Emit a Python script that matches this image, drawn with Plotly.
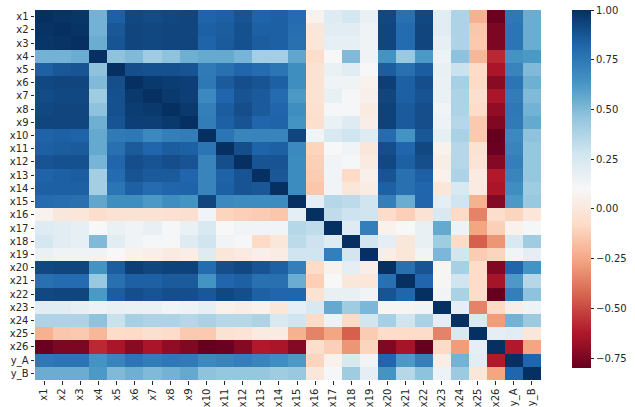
import numpy as np
import plotly.graph_objects as go

labels = [f"x{i}" for i in range(1, 27)] + ["y_A", "y_B"]

# Lower triangle of the correlation matrix, one row per variable
r_x1 = [1.0]
r_x2 = [0.99, 1.0]
r_x3 = [0.98, 0.99, 1.0]
r_x4 = [0.53, 0.53, 0.55, 1.0]
r_x5 = [0.84, 0.87, 0.88, 0.47, 1.0]
r_x6 = [0.92, 0.93, 0.93, 0.50, 0.90, 1.0]
r_x7 = [0.91, 0.92, 0.92, 0.42, 0.89, 0.97, 1.0]
r_x8 = [0.92, 0.93, 0.93, 0.47, 0.89, 0.96, 0.97, 1.0]
r_x9 = [0.93, 0.93, 0.93, 0.54, 0.88, 0.95, 0.95, 0.97, 1.0]
r_x10 = [0.83, 0.84, 0.83, 0.56, 0.74, 0.75, 0.68, 0.72, 0.73, 1.0]
r_x11 = [0.84, 0.85, 0.86, 0.56, 0.78, 0.86, 0.82, 0.85, 0.84, 0.76, 1.0]
r_x12 = [0.88, 0.89, 0.89, 0.52, 0.82, 0.90, 0.88, 0.90, 0.88, 0.70, 0.90, 1.0]
r_x13 = [0.83, 0.84, 0.85, 0.41, 0.80, 0.88, 0.86, 0.86, 0.82, 0.70, 0.83, 0.88, 1.0]
r_x14 = [0.84, 0.84, 0.84, 0.41, 0.76, 0.84, 0.80, 0.82, 0.83, 0.70, 0.84, 0.88, 0.87, 1.0]
r_x15 = [0.80, 0.79, 0.78, 0.57, 0.66, 0.66, 0.62, 0.66, 0.64, 0.93, 0.68, 0.67, 0.67, 0.67, 1.0]
r_x16 = [0.07, 0.00, -0.01, -0.06, -0.03, -0.03, -0.03, -0.04, -0.05, 0.13, -0.10, -0.12,
         -0.13, -0.15, 0.19, 1.0]
r_x17 = [0.22, 0.20, 0.18, 0.10, 0.16, 0.14, 0.17, 0.11, 0.16, 0.24, 0.10, 0.13, 0.13, 0.13,
         0.36, 0.33, 1.0]
r_x18 = [0.26, 0.20, 0.18, 0.50, 0.20, 0.14, 0.11, 0.11, 0.22, 0.28, 0.13, 0.11, -0.08, -0.01,
         0.34, 0.29, 0.22, 1.0]
r_x19 = [0.16, 0.14, 0.14, 0.14, 0.10, 0.06, 0.05, 0.02, 0.04, 0.22, -0.01, 0.02, 0.05, 0.03,
         0.28, 0.28, 0.72, 0.27, 1.0]
r_x20 = [0.92, 0.93, 0.93, 0.64, 0.85, 0.95, 0.93, 0.94, 0.94, 0.80, 0.90, 0.92, 0.88, 0.84,
         0.72, -0.07, 0.06, 0.19, 0.04, 1.0]
r_x21 = [0.78, 0.80, 0.80, 0.44, 0.78, 0.84, 0.84, 0.86, 0.86, 0.64, 0.82, 0.84, 0.78, 0.78,
         0.55, -0.12, 0.10, 0.00, -0.01, 0.78, 1.0]
r_x22 = [0.92, 0.93, 0.93, 0.62, 0.85, 0.90, 0.88, 0.90, 0.90, 0.87, 0.92, 0.90, 0.84, 0.82,
         0.82, -0.03, 0.17, 0.17, 0.13, 0.88, 0.82, 1.0]
r_x23 = [0.20, 0.20, 0.18, 0.15, 0.17, 0.16, 0.16, 0.13, 0.15, 0.18, 0.06, 0.04, 0.06, -0.01,
         0.19, 0.24, 0.56, 0.42, 0.51, 0.09, 0.09, 0.13, 1.0]
r_x24 = [0.38, 0.38, 0.38, 0.47, 0.30, 0.40, 0.38, 0.38, 0.36, 0.39, 0.36, 0.36, 0.38, 0.24,
         0.28, -0.08, 0.15, -0.08, 0.27, 0.40, 0.28, 0.39, 0.19, 1.0]
r_x25 = [-0.22, -0.15, -0.14, -0.20, -0.07, -0.08, -0.05, -0.07, -0.14, -0.14, -0.03, -0.02,
         0.02, 0.02, -0.22, -0.35, -0.26, -0.44, -0.13, -0.07, -0.07, -0.07, -0.35, 0.24, 1.0]
r_x26 = [-0.79, -0.75, -0.75, -0.58, -0.64, -0.72, -0.64, -0.70, -0.74, -0.80, -0.79, -0.73,
         -0.62, -0.64, -0.73, -0.06, -0.12, -0.30, -0.10, -0.74, -0.65, -0.80, -0.08, -0.28,
         0.19, 1.0]
r_yA = [0.75, 0.76, 0.76, 0.64, 0.70, 0.76, 0.73, 0.75, 0.74, 0.68, 0.70, 0.72, 0.70, 0.66,
        0.62, -0.10, 0.06, 0.24, 0.13, 0.82, 0.62, 0.72, 0.04, 0.53, 0.20, -0.62, 1.0]
r_yB = [0.55, 0.55, 0.55, 0.62, 0.50, 0.54, 0.50, 0.53, 0.56, 0.47, 0.45, 0.45, 0.45, 0.42,
        0.44, -0.01, 0.11, 0.42, 0.19, 0.64, 0.36, 0.47, 0.15, 0.43, -0.01, -0.26, 0.82, 1.0]

lower_rows = [r_x1, r_x2, r_x3, r_x4, r_x5, r_x6, r_x7, r_x8, r_x9, r_x10, r_x11, r_x12,
              r_x13, r_x14, r_x15, r_x16, r_x17, r_x18, r_x19, r_x20, r_x21, r_x22, r_x23,
              r_x24, r_x25, r_x26, r_yA, r_yB]

cbar_ticks = [-0.75, -0.5, -0.25, 0.0, 0.25, 0.5, 0.75, 1.0]

# Mirror the lower triangle into a full symmetric matrix
n = len(labels)
corr = np.zeros((n, n))
for i, row in enumerate(lower_rows):
    for j, v in enumerate(row):
        corr[i, j] = v
        corr[j, i] = v

# Reversed ColorBrewer RdBu (red = negative, blue = positive)
rdbu_r = ["#67001f", "#b2182b", "#d6604d", "#f4a582", "#fddbc7", "#f7f7f7",
          "#d1e5f0", "#92c5de", "#4393c3", "#2166ac", "#053061"]
colorscale = [[k / (len(rdbu_r) - 1), c] for k, c in enumerate(rdbu_r)]

text_color = "#262626"
font = dict(family="DejaVu Sans", size=10, color=text_color)

fig = go.Figure(
    go.Heatmap(
        z=corr,
        x=labels,
        y=labels,
        colorscale=colorscale,
        zmin=float(corr.min()),
        zmax=float(corr.max()),
        xgap=0,
        ygap=0,
        colorbar=dict(
            x=1.061,
            xanchor="left",
            xpad=0,
            y=1.0,
            yanchor="top",
            ypad=0,
            len=0.968,
            lenmode="fraction",
            thickness=19,
            outlinewidth=0,
            ticks="outside",
            ticklen=3.5,
            tickwidth=0.8,
            tickcolor=text_color,
            tickvals=cbar_ticks,
            ticktext=[f"{t:.2f}".replace("-", "\u2212") for t in cbar_ticks],
            tickfont=font,
        ),
    )
)

fig.update_layout(
    width=635,
    height=407,
    margin=dict(l=35, r=94, t=10, b=27, autoexpand=False),
    paper_bgcolor="white",
    plot_bgcolor="white",
    font=font,
)
fig.update_xaxes(
    type="category",
    tickangle=-90,
    ticks="outside",
    ticklen=3.5,
    tickwidth=0.8,
    tickcolor=text_color,
    tickfont=font,
    showgrid=False,
    zeroline=False,
    showline=False,
    automargin=False,
)
fig.update_yaxes(
    type="category",
    autorange="reversed",
    ticks="outside",
    ticklen=3.5,
    tickwidth=0.8,
    tickcolor=text_color,
    tickfont=font,
    showgrid=False,
    zeroline=False,
    showline=False,
    automargin=False,
)

fig.write_html("out.html")
